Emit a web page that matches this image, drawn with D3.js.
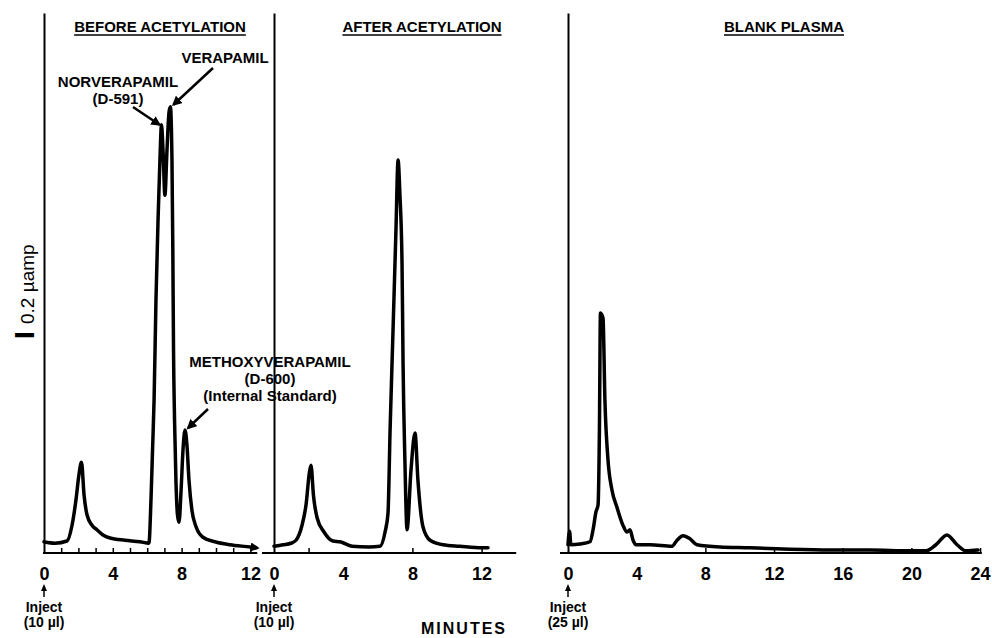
<!DOCTYPE html>
<html>
<head>
<meta charset="utf-8">
<script src="https://cdn.jsdelivr.net/npm/d3@7"></script>
<style>
  body { margin: 0; background: #fff; }
  text { font-family: "Liberation Sans", Arial, sans-serif; fill: #000; }
</style>
</head>
<body>
<div id="chart"></div>
<script>
// retention time (min) and detector signal (µamp above baseline)
const beforeTime = [0, 0.64, 1.34, 1.63, 1.86, 2.03, 2.18, 2.33, 2.5, 2.79, 3.08, 3.43, 3.84, 4.71, 5.58, 6.1, 6.22, 6.31, 6.4, 6.51, 6.63, 6.74, 6.83, 6.92, 7.03, 7.15, 7.27, 7.35, 7.44, 7.49, 7.53, 7.59, 7.67, 7.76, 7.85, 7.97, 8.08, 8.2, 8.31, 8.43, 8.6, 8.84, 9.24, 9.94, 10.8, 12.0, 12.33];
const beforeSignal = [0.15, 0.13, 0.16, 0.37, 0.71, 1.04, 1.21, 0.77, 0.51, 0.37, 0.31, 0.24, 0.2, 0.17, 0.15, 0.13, 0.71, 1.37, 2.04, 3.37, 4.44, 5.24, 5.71, 5.37, 4.77, 5.37, 5.88, 5.95, 5.24, 4.04, 2.71, 1.77, 0.97, 0.51, 0.41, 0.84, 1.37, 1.64, 1.44, 0.97, 0.57, 0.35, 0.21, 0.15, 0.11, 0.08, 0.07];

const afterTime = [0, 0.52, 0.98, 1.27, 1.62, 1.85, 2.05, 2.14, 2.28, 2.49, 2.89, 3.41, 3.82, 4.51, 5.49, 6.13, 6.42, 6.59, 6.71, 6.88, 7.05, 7.17, 7.28, 7.4, 7.46, 7.57, 7.69, 7.92, 8.15, 8.32, 8.61, 9.02, 9.77, 10.75, 12.02, 12.37];
const afterSignal = [0.09, 0.11, 0.13, 0.17, 0.37, 0.64, 1.08, 1.17, 0.77, 0.47, 0.28, 0.16, 0.15, 0.09, 0.08, 0.09, 0.28, 0.53, 1.64, 2.97, 4.31, 5.24, 4.77, 3.87, 2.53, 1.2, 0.31, 1.11, 1.6, 0.97, 0.35, 0.17, 0.11, 0.09, 0.07, 0.07];

const blankTime = [0, 0.09, 0.17, 0.7, 1.28, 1.46, 1.63, 1.75, 1.83, 1.89, 2.04, 2.15, 2.33, 2.56, 2.85, 3.2, 3.44, 3.61, 3.79, 3.96, 4.78, 6.06, 6.35, 6.7, 7.1, 7.51, 8.85, 10.6, 12.93, 15.26, 17.59, 19.92, 20.85, 21.43, 22.07, 22.66, 23.18, 23.88];
const blankSignal = [0.11, 0.29, 0.11, 0.12, 0.15, 0.31, 0.55, 0.64, 1.64, 3.2, 3.13, 2.04, 1.24, 0.84, 0.61, 0.37, 0.28, 0.31, 0.17, 0.11, 0.11, 0.09, 0.17, 0.23, 0.19, 0.11, 0.08, 0.07, 0.05, 0.04, 0.04, 0.03, 0.03, 0.11, 0.24, 0.11, 0.03, 0.04];

// axis labels and tick marks
const beforeTicks = [0, 4, 8, 12];
const afterTicks = [0, 4, 8, 12];
const blankTicks = [0, 4, 8, 12, 16, 20, 24];
const beforeMarks = [1, 2, 3, 4, 5, 6, 7, 8, 9, 10, 11, 12];
const afterMarks = [2, 8, 12];
const blankMarks = [8, 12, 16, 20, 24];

const titles = ["BEFORE ACETYLATION", "AFTER ACETYLATION", "BLANK PLASMA"];
const injectVolumes = ["(10 µl)", "(10 µl)", "(25 µl)"];

const W = 992, H = 638;
const svg = d3.select("#chart").append("svg")
    .attr("width", W)
    .attr("height", H);

const defs = svg.append("defs");
defs.append("marker")
    .attr("id", "head")
    .attr("viewBox", "0 0 10 10")
    .attr("refX", 8).attr("refY", 5)
    .attr("markerWidth", 4).attr("markerHeight", 4)
    .attr("orient", "auto")
    .append("path").attr("d", "M0,0L10,5L0,10z").attr("fill", "#000");
defs.append("marker")
    .attr("id", "endhead")
    .attr("viewBox", "0 0 10 10")
    .attr("refX", 6).attr("refY", 5)
    .attr("markerWidth", 2.6).attr("markerHeight", 2.6)
    .attr("orient", "auto")
    .append("path").attr("d", "M0,0L10,5L0,10z").attr("fill", "#000");

var yBase = 553;
var y = d3.scaleLinear().domain([0, 7.2]).range([yBase, 13]);

var panels = [
    {time: beforeTime, signal: beforeSignal, ticks: beforeTicks, marks: beforeMarks, domain: [0, 12.4], left: 44, ppm: 17.2, titleX: 160, axisStart: 43},
    {time: afterTime, signal: afterSignal, ticks: afterTicks, marks: afterMarks, domain: [0, 14], left: 274, ppm: 17.3, titleX: 422, axisStart: 262},
    {time: blankTime, signal: blankSignal, ticks: blankTicks, marks: blankMarks, domain: [0, 24.1], left: 568, ppm: 17.17, titleX: 784, axisStart: 560}
];

panels.forEach(function(p, i) {
    p.x = d3.scaleLinear()
        .domain(p.domain)
        .range([p.left, p.left + (p.domain[1] - p.domain[0]) * p.ppm]);

    // x axis: baseline + labels
    var gx = svg.append("g")
        .attr("transform", "translate(0," + yBase + ")")
        .call(d3.axisBottom(p.x).tickValues(p.ticks).tickSize(0).tickSizeOuter(0).tickPadding(14))
        .attr("font-size", 18)
        .attr("font-family", "'Liberation Sans', Arial, sans-serif")
        .attr("font-weight", "bold");
    gx.select(".domain").attr("stroke", "#000").attr("stroke-width", 2)
        .attr("d", "M" + p.axisStart + ",0H" + p.x.range()[1]);

    // small marks along the baseline
    svg.append("g")
        .attr("transform", "translate(0," + yBase + ")")
        .call(d3.axisBottom(p.x).tickValues(p.marks).tickSize(-5).tickSizeOuter(0).tickFormat(""))
        .call(g => g.select(".domain").remove())
        .selectAll("line").attr("stroke", "#000").attr("stroke-width", 1.5);

    // y axis line (no ticks)
    svg.append("g")
        .attr("transform", "translate(" + p.left + ",0)")
        .call(d3.axisLeft(y).tickValues([]).tickSizeOuter(0))
        .select(".domain").attr("stroke", "#000").attr("stroke-width", 2);

    // trace
    var line = d3.line()
        .x(function(d, k) { return p.x(p.time[k]); })
        .y(function(d) { return y(d); })
        .curve(d3.curveMonotoneX);
    var path = svg.append("path")
        .datum(p.signal)
        .attr("d", line)
        .attr("fill", "none")
        .attr("stroke", "#000")
        .attr("stroke-width", 3.5)
        .attr("stroke-linejoin", "round")
        .attr("stroke-linecap", "round");
    if (i === 0) path.attr("marker-end", "url(#endhead)");

    // panel title, underlined
    var t = svg.append("text")
        .attr("x", p.titleX).attr("y", 32)
        .attr("text-anchor", "middle")
        .attr("font-size", 15)
        .attr("font-weight", "bold")
        .text(titles[i]);
    var tw = t.node().getComputedTextLength();
    svg.append("line")
        .attr("x1", p.titleX - tw / 2).attr("x2", p.titleX + tw / 2)
        .attr("y1", 35).attr("y2", 35)
        .attr("stroke", "#000").attr("stroke-width", 1.5);

    // injection marker under the zero
    var x0 = p.x(0);
    svg.append("path")
        .attr("d", "M" + x0 + ",597V589")
        .attr("stroke", "#000").attr("stroke-width", 1.5);
    svg.append("path")
        .attr("d", "M" + (x0 - 3) + ",591L" + x0 + ",584L" + (x0 + 3) + ",591z")
        .attr("fill", "#000");
    svg.append("text")
        .attr("x", x0).attr("y", 612)
        .attr("text-anchor", "middle")
        .attr("font-size", 14).attr("font-weight", "bold")
        .text("Inject");
    svg.append("text")
        .attr("x", x0).attr("y", 627)
        .attr("text-anchor", "middle")
        .attr("font-size", 14).attr("font-weight", "bold")
        .text(injectVolumes[i]);
});

// peak labels with arrows (panel 1)
var xb = panels[0].x;
function label(lines, cx, y0, dy) {
    lines.forEach(function(s, k) {
        svg.append("text")
            .attr("x", cx).attr("y", y0 + k * dy)
            .attr("text-anchor", "middle")
            .attr("font-size", 15).attr("font-weight", "bold")
            .text(s);
    });
}
function arrow(x1, y1, x2, y2) {
    svg.append("line")
        .attr("x1", x1).attr("y1", y1).attr("x2", x2).attr("y2", y2)
        .attr("stroke", "#000").attr("stroke-width", 2.5)
        .attr("marker-end", "url(#head)");
}
label(["VERAPAMIL"], 225, 63, 0);
label(["NORVERAPAMIL", "(D-591)"], 118, 87, 17);
label(["METHOXYVERAPAMIL", "(D-600)", "(Internal Standard)"], 270, 367, 17);
arrow(213, 68, xb(7.35) + 3, y(5.95) - 2);
arrow(133, 107, xb(6.83) - 2, y(5.71));
arrow(208, 409, xb(8.2) + 3, y(1.64) - 2);

// scale bar label
svg.append("text")
    .attr("transform", "translate(34,335) rotate(-90)")
    .attr("text-anchor", "middle")
    .attr("font-family", "'Liberation Serif', serif")
    .attr("font-size", 28).attr("font-weight", "bold")
    .text("I");
svg.append("text")
    .attr("transform", "translate(34,324) rotate(-90)")
    .attr("text-anchor", "start")
    .attr("font-family", "'Liberation Serif', serif")
    .attr("font-size", 19)
    .text("0.2 µamp");

// x axis title
svg.append("text")
    .attr("x", 464).attr("y", 634)
    .attr("text-anchor", "middle")
    .attr("font-size", 16).attr("font-weight", "bold")
    .attr("letter-spacing", 2)
    .text("MINUTES");
</script>
</body>
</html>
